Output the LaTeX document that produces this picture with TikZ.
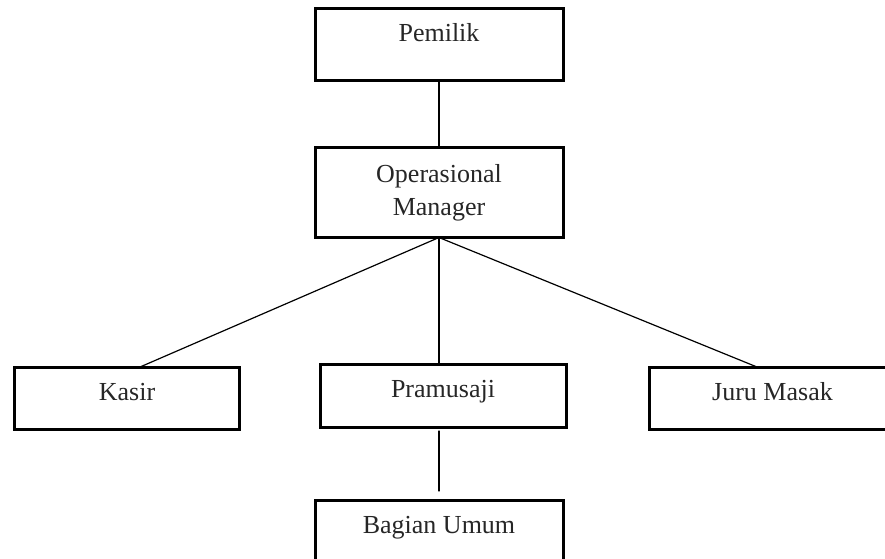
\documentclass[tikz,border=0pt]{standalone}
\usepackage{fontspec}
\setmainfont{Liberation Serif}
\begin{document}
\begin{tikzpicture}[x=1pt,y=-1pt,line cap=round,
	kotak/.style={draw,line width=3pt,anchor=north west,inner sep=0pt,outer sep=0pt,minimum width=248pt,text=black!85,font=\fontsize{26}{33}\selectfont},
	isi/.style={text height=18pt,inner ysep=15pt,text depth=#1},
	garis/.style={line width=1.2pt}]
		\clip (0,0) rectangle (885,558);
		\node[kotak,isi=24pt] (pemilik) at (315,8.5) {Pemilik};
		\node[kotak,minimum height=90pt,align=center] (om) at (315,147.5) {Operasional\\Manager};
		\node[kotak,isi=14pt,minimum width=225pt] (kasir) at (14.5,367) {Kasir};
		\node[kotak,isi=15pt,minimum width=246pt] (pramusaji) at (320,364) {Pramusaji};
		\node[kotak,isi=14pt,minimum width=246pt] (juru) at (649.5,367) {Juru Masak};
		\node[kotak,isi=24pt] (bagian) at (315,500) {Bagian Umum};
		\draw[garis] (pemilik.south) -- (om.north);
		\draw[garis] (om.south) -- ([xshift=13pt]kasir.north);
		\draw[garis] (om.south) -- ([xshift=-15.5pt]juru.north);
		\draw[garis] (om.south) -- (om.south |- pramusaji.north);
		\draw[garis,shorten <=4pt,shorten >=9pt] (pramusaji.south -| om.south) -- (bagian.north -| om.south);
\end{tikzpicture}
\end{document}
